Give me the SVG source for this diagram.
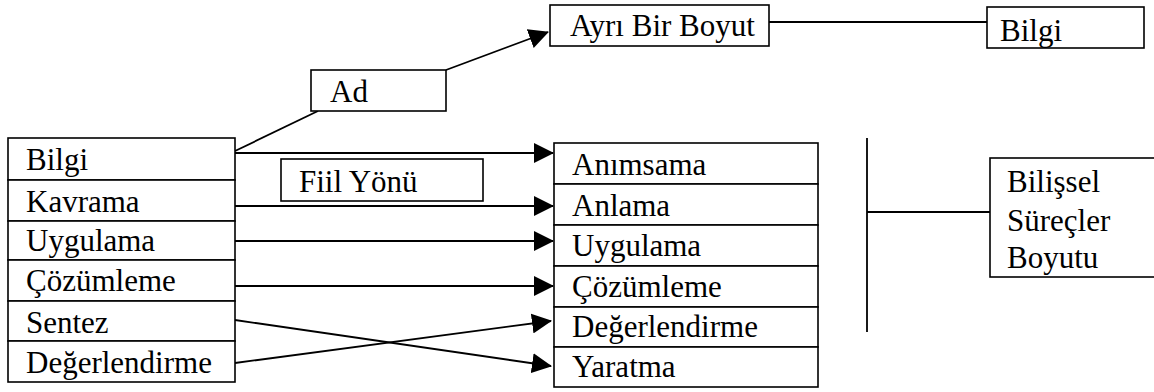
<svg xmlns="http://www.w3.org/2000/svg" width="1154" height="392" viewBox="0 0 1154 392">
<style>
.box{fill:#fff;stroke:#000;stroke-width:1.6}
.ln{stroke:#000;stroke-width:1.8;fill:none}
.t{font-family:'Liberation Serif','Times New Roman',serif;font-size:31px;fill:#000}
</style>
<defs>
<marker id="ah" viewBox="0 0 20 20" refX="19" refY="10" markerWidth="20" markerHeight="20" markerUnits="userSpaceOnUse" orient="auto">
<path d="M0,0 L20,10 L0,20 Z" fill="#000"/>
</marker>
</defs>
<rect width="1154" height="392" fill="#fff"/>
<g id="connectors">
<line class="ln" x1="235" y1="151" x2="318" y2="111"/>
<line class="ln" x1="446" y1="70" x2="548" y2="32" marker-end="url(#ah)"/>
<line class="ln" x1="769" y1="22" x2="987" y2="22"/>
<line class="ln" x1="235" y1="153" x2="553" y2="153" marker-end="url(#ah)"/>
<line class="ln" x1="235" y1="206" x2="553" y2="206" marker-end="url(#ah)"/>
<line class="ln" x1="235" y1="241" x2="553" y2="241" marker-end="url(#ah)"/>
<line class="ln" x1="235" y1="286" x2="553" y2="286" marker-end="url(#ah)"/>
<line class="ln" x1="235" y1="320" x2="551" y2="366" marker-end="url(#ah)"/>
<line class="ln" x1="235" y1="363" x2="551" y2="321" marker-end="url(#ah)"/>
<line class="ln" x1="867" y1="138" x2="867" y2="332"/>
<line class="ln" x1="867" y1="212" x2="990" y2="212"/>
</g>
<g id="left-list">
<rect class="box" x="8" y="138" width="227" height="42"/>
<rect class="box" x="8" y="180" width="227" height="41"/>
<rect class="box" x="8" y="221" width="227" height="39"/>
<rect class="box" x="8" y="260" width="227" height="41"/>
<rect class="box" x="8" y="301" width="227" height="40"/>
<rect class="box" x="8" y="341" width="227" height="41"/>
<text class="t" x="26" y="170">Bilgi</text>
<text class="t" x="26" y="212">Kavrama</text>
<text class="t" x="26" y="251">Uygulama</text>
<text class="t" x="26" y="291">Çözümleme</text>
<text class="t" x="26" y="333">Sentez</text>
<text class="t" x="26" y="373">Değerlendirme</text>
</g>
<g id="ad">
<rect class="box" x="311" y="70" width="135" height="41"/>
<text class="t" x="330" y="102">Ad</text>
</g>
<g id="fiil-yonu">
<rect class="box" x="281" y="159" width="202" height="42"/>
<text class="t" x="299" y="192">Fiil Yönü</text>
</g>
<g id="ayri-bir-boyut">
<rect class="box" x="550" y="5" width="219" height="41"/>
<text class="t" x="570" y="36">Ayrı Bir Boyut</text>
</g>
<g id="bilgi-top">
<rect class="box" x="987" y="7" width="157" height="41"/>
<text class="t" x="1000" y="41">Bilgi</text>
</g>
<g id="right-list">
<rect class="box" x="554" y="143" width="264" height="41"/>
<rect class="box" x="554" y="184" width="264" height="41"/>
<rect class="box" x="554" y="225" width="264" height="41"/>
<rect class="box" x="554" y="266" width="264" height="41"/>
<rect class="box" x="554" y="307" width="264" height="40"/>
<rect class="box" x="554" y="347" width="264" height="40"/>
<text class="t" x="572" y="175">Anımsama</text>
<text class="t" x="572" y="216">Anlama</text>
<text class="t" x="572" y="256">Uygulama</text>
<text class="t" x="572" y="297">Çözümleme</text>
<text class="t" x="572" y="337">Değerlendirme</text>
<text class="t" x="572" y="377">Yaratma</text>
</g>
<g id="bilissel">
<rect class="box" x="990" y="158" width="180" height="119"/>
<text class="t" x="1007" y="192">Bilişsel</text>
<text class="t" x="1007" y="231">Süreçler</text>
<text class="t" x="1007" y="268">Boyutu</text>
</g>
</svg>
